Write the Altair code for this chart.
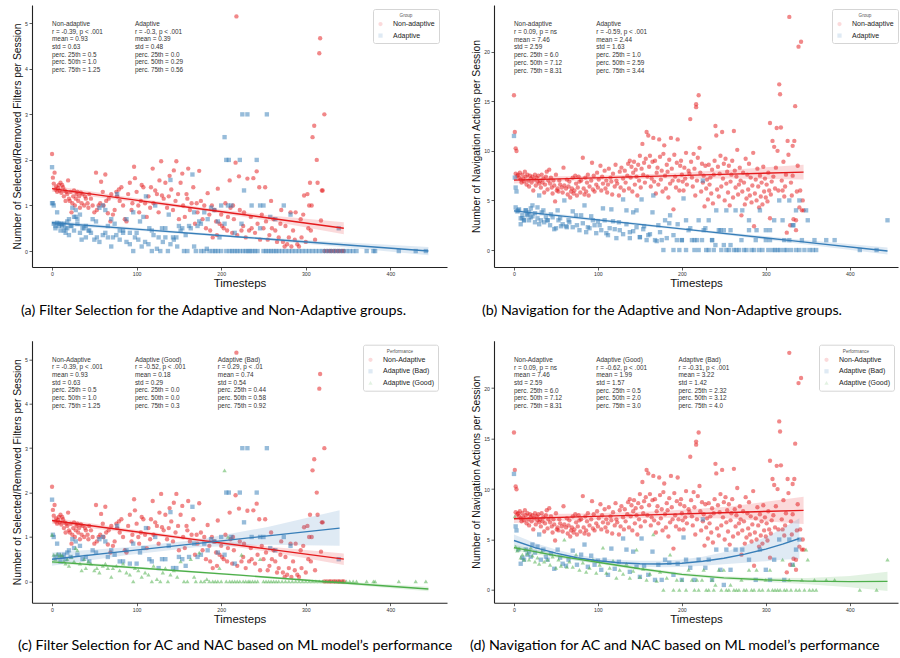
import altair as alt
import pandas as pd

# ---------------- data ----------------
# Filter selection, Non-Adaptive
filt_na_x = [0,1,2,3,4,5,6,7,8,9,10,11,12,13,14,15,16,17,18,19,20,21,22,23,24,25,26,27,28,29,30,31,32,33,34,35,36,38,39,40,42,43,44,46,48,50,52,53,55,57,58,60,61,63,64,66,67,69,70,72,74,76,77,79,80,82,84,86,88,90,92,94,95,97,98,100,102,103,105,106,108,110,112,114,116,117,119,120,122,124,126,127,129,130,132,134,136,138,139,141,143,144,146,147,149,150,152,154,155,157,159,160,161,163,165,167,169,171,172,174,176,178,180,182,184,186,187,189,190,192,194,195,196,198,200,201,203,205,207,208,210,211,213,214,215,217,218,219,221,222,224,226,227,229,231,233,235,236,238,240,242,243,245,246,248,250,252,253,255,257,259,260,262,264,266,268,270,271,273,275,276,278,280,282,283,285,287,288,290,292,294,295,297,298,300,302,303,304,305,306,307,308,310,311,313,314,316,317,318,319,320,322,322,325,328,330,333,335,338,340,343,345]
filt_na_y = [2.13,1.61,1.48,1.72,1.35,1.42,1.30,1.38,1.45,1.33,1.50,1.28,1.45,1.40,1.20,1.33,1.10,1.30,1.25,1.55,1.15,1.10,1.30,0.85,1.05,1.20,1.33,1.00,1.15,1.25,1.30,1.10,1.20,0.95,1.28,1.05,1.25,1.00,1.20,1.15,1.05,0.95,1.25,1.15,1.00,0.85,1.72,0.90,1.00,1.05,1.52,1.30,1.00,1.68,1.10,0.83,1.15,0.65,1.25,0.80,0.90,1.30,1.20,1.35,1.10,1.40,1.00,0.70,0.65,1.25,1.50,0.90,1.05,1.85,1.60,1.30,1.00,0.85,1.10,1.45,1.40,1.05,0.75,1.20,0.95,1.40,1.81,1.05,1.33,1.25,0.85,1.55,1.97,1.22,1.15,1.50,0.95,1.20,1.65,1.35,0.90,1.77,1.10,1.97,1.25,0.70,1.50,1.70,1.00,0.75,1.25,1.15,1.81,0.90,1.05,1.40,0.60,1.05,0.85,1.76,1.10,0.70,1.00,0.50,1.27,0.80,0.45,1.00,0.30,0.90,0.65,0.35,1.37,0.60,0.80,0.55,0.50,1.05,0.45,0.75,1.55,0.95,0.40,1.00,0.70,1.94,5.15,0.35,1.64,0.90,0.45,0.55,0.85,0.30,1.59,0.45,0.75,0.50,1.60,0.40,1.75,0.60,1.40,0.25,0.80,0.50,1.40,0.65,0.25,0.35,1.10,0.50,0.70,0.45,0.20,0.30,0.60,0.90,0.20,0.10,0.55,0.15,0.30,0.85,0.10,0.45,0.25,0.85,0.15,0.10,0.70,0.30,0.80,1.22,0.20,1.25,0.50,1.00,1.50,0.45,1.00,2.50,2.75,0.25,2.00,1.50,4.34,4.67,0.67,1.33,1.33,3.00,0.0,0.0,0.0,0.0,0.0,0.0,0.0,0.0,0.0,0.0]

# Filter selection, Adaptive (Bad)
filt_bad_x = [0,1,2,4,6,8,10,12,14,16,18,20,22,24,26,28,30,33,36,40,44,48,52,56,60,63,66,70,74,77,80,84,88,92,96,100,104,108,111,115,118,122,126,130,134,138,140,143,147,150,154,158,162,166,168,172,176,180,184,188,192,196,200,204,206,209,212,216,222,225,227,231,236,242,246,250,254,258,264,274,282,339]
filt_bad_y = [1.84,1.05,1.0,0.55,0.85,0.6,0.45,0.55,0.6,0.5,0.65,0.7,0.55,0.95,0.75,0.9,0.6,0.8,0.5,0.55,0.45,0.7,0.65,0.95,1.0,0.9,0.55,0.7,0.6,1.25,0.45,0.45,0.7,0.4,0.85,0.4,0.65,0.75,1.2,0.5,0.45,1.0,0.3,0.5,0.5,0.8,1.56,0.3,0.3,0.55,0.5,0.35,0.55,1.68,0.85,0.55,0.6,0.85,0.7,0.95,0.9,0.65,1.0,0.6,2.0,2.0,1.0,0.4,2.0,3.0,1.33,3.0,1.0,2.0,1.0,1.0,3.0,0.75,0.7,1.0,0.8,0.5]

# Filter selection, Adaptive (Good)
filt_good_x = [0,2,4,6,8,10,12,14,16,18,20,23,26,28,30,33,35,38,40,43,46,50,53,56,60,63,66,70,72,76,80,84,88,92,96,98,102,106,110,114,118,120,124,128,131,134,137,140,144,148,152,156,160,164,168,170,174,176,180,183,186,190,193,196,198,200,204,206,208,210,213,216,219,222,224,226,229,232,234,237,240,243,246,250,253,256,259,262,265,268,272,276,280,284,288,292,296,300,304,308,312,316,320,324,328,332,336,340,344,348,352,356,360,372,380,382,410,430,442]
filt_good_y = [1.05,0.6,0.5,0.62,0.55,0.6,0.58,0.45,0.4,0.5,0.35,0.55,0.45,0.75,0.7,0.4,0.25,0.5,0.3,0.45,0.4,0.25,0.3,0.2,0.35,0.4,0.3,0.1,0.3,0.35,0.25,0.4,0.2,0.15,0.0,0.3,0.25,0.1,0.2,0.15,0.0,0.35,0.05,0.0,0.2,0.3,0.0,0.15,0.25,0.1,0.45,0.0,0.0,0.5,0.1,0.0,0.65,0.0,0.0,0.05,0.0,0.0,0.0,0.0,0.3,0.0,2.5,0.0,1.0,0.0,0.0,0.0,0.0,0.0,0.6,0.0,0.0,0.0,0.0,0.0,0.0,0.0,0.5,0.0,0.0,0.0,0.0,0.0,0.0,0.0,0.0,0.0,0.0,0.0,0.0,0.0,0.0,0.0,0.0,0.0,0.0,0.0,0.0,0.0,0.0,0.0,0.0,0.0,0.0,0.0,0.0,0.0,0.0,0.0,0.0,0.0,0.0,0.0,0.0]

# Navigation, Non-Adaptive
nav_na_x = [0,1,2,3,2,4,5,6,7,8,9,10,11,12,13,14,15,16,17,18,19,20,21,22,23,24,25,26,27,28,29,30,31,32,33,34,35,36,37,38,39,40,41,42,43,44,45,46,47,48,49,50,51,52,53,54,55,57,58,59,60,62,63,64,65,66,67,68,69,70,71,72,73,74,75,76,77,78,79,80,82,83,84,85,86,87,88,89,90,92,93,94,95,96,98,99,100,101,103,104,105,106,108,109,110,111,112,113,115,116,117,118,120,121,122,123,125,126,127,128,130,131,132,133,135,136,137,138,139,140,141,142,143,144,145,146,147,148,149,150,151,152,153,154,155,156,157,158,159,160,161,162,163,164,165,166,167,168,169,170,171,172,173,174,175,176,177,178,179,180,181,182,183,184,185,186,187,188,189,190,191,192,193,194,195,196,197,198,199,200,201,202,203,204,205,206,208,209,210,211,212,213,214,215,216,217,217,218,219,220,221,222,223,224,225,226,227,228,229,230,231,232,233,234,235,236,237,238,239,240,241,242,243,244,245,246,247,248,249,250,251,252,253,254,255,256,257,258,259,260,261,262,263,264,265,266,267,268,269,270,271,272,273,274,275,276,277,278,279,280,281,282,283,284,285,286,287,288,289,290,291,292,293,294,295,296,297,298,299,300,301,302,303,304,305,305,306,307,308,309,310,311,312,313,314,315,316,317,318,319,320,321,322,323,324,325,326,327,328,329,330,331,332,332,333,334,335,336,336,337,338,339,340,341,342,343,344,345]
nav_na_y = [15.6,11.9,10.25,9.98,7.7,7.5,7.6,7.3,7.8,7.1,6.8,7.6,7.2,6.9,7.9,7.4,6.6,7.6,7.0,6.4,7.5,7.2,6.8,7.4,6.0,7.1,7.6,6.5,7.3,6.9,7.5,6.7,7.0,6.3,7.6,6.8,7.2,5.8,6.6,7.4,7.9,6.1,7.0,8.1,6.7,7.3,6.3,5.7,7.0,6.5,4.9,7.6,6.0,6.2,5.9,7.0,6.6,6.3,5.8,8.3,6.5,6.2,7.1,5.6,6.4,6.9,5.3,5.9,6.2,7.3,5.7,6.0,7.5,6.7,5.5,6.3,7.4,6.9,5.8,7.0,9.3,6.2,5.6,7.3,5.9,6.8,7.6,5.5,6.4,7.0,8.8,6.1,7.5,5.9,6.6,7.8,6.3,7.1,8.5,6.0,7.4,6.7,8.0,6.2,7.0,5.8,6.6,8.2,7.3,6.9,5.6,7.7,6.4,8.6,7.0,6.7,5.5,7.9,6.3,8.3,7.2,6.0,8.0,6.8,7.5,8.7,6.2,9.0,7.3,8.4,5.9,7.8,8.9,6.6,8.1,7.4,5.5,8.6,7.0,9.5,6.3,8.2,10.7,7.6,8.8,6.8,9.2,11.9,7.4,11.55,8.4,9.5,6.4,7.2,8.9,11.3,6.9,9.0,5.7,7.8,8.3,6.6,11.15,9.4,7.1,8.0,5.9,9.7,10.55,7.5,6.2,8.6,7.9,5.3,9.1,6.7,11.3,8.2,7.0,4.1,9.6,7.4,6.3,8.8,11.15,7.0,6.0,8.5,9.0,7.6,6.9,6.0,8.3,7.2,9.8,6.6,8.0,7.7,13.2,8.9,7.3,6.4,9.7,8.2,5.5,14.4,14.7,7.0,9.3,15.6,10.3,7.8,5.9,8.7,6.8,7.5,4.4,8.5,6.2,7.1,5.1,8.6,6.6,7.3,5.7,8.1,4.7,7.6,9.0,12.5,11.55,6.1,8.4,5.4,7.7,9.5,6.4,11.9,7.2,8.7,5.0,9.2,6.7,7.9,5.8,8.5,4.5,6.9,7.6,9.0,5.3,12.0,8.0,6.3,7.4,10.1,5.6,6.6,8.3,7.0,3.5,5.9,7.8,6.8,4.6,9.2,5.2,7.6,6.1,8.7,5.5,7.3,4.8,6.5,9.8,2.4,5.7,7.1,5.0,8.2,6.4,4.3,7.5,5.4,6.8,4.6,8.4,5.9,7.2,5.3,6.6,4.9,7.8,6.0,12.8,3.2,5.6,6.9,11.0,7.4,10.4,6.2,8.3,12.3,10.0,6.0,16.7,15.7,12.35,7.0,6.0,8.9,5.4,6.4,7.6,1.75,11.0,9.6,23.5,2.5,6.8,5.5,10.5,7.5,3.1,11.0,14.5,2.0,3.0,5.9,8.5,20.5,4.3,6.0,21.0,4.0,5.0,4.0]

# Navigation, Adaptive (Bad)
nav_bad_x = [0,2,3,5,8,10,12,14,16,18,20,22,25,28,30,32,35,38,40,44,48,52,55,58,62,65,70,75,80,84,88,92,96,100,104,108,112,116,120,125,130,134,138,142,146,150,152,155,160,165,168,172,176,180,185,190,195,200,202,205,210,215,220,225,228,232,236,241,246,250,253,258,264,272,280,288,293,300,305,310,316,322,328,332,336,340]
nav_bad_y = [11.5,6.3,5.9,4.0,2.6,3.2,3.0,4.0,3.5,3.8,3.3,4.5,3.7,4.3,5.5,3.0,4.0,3.3,3.0,3.6,2.1,4.0,3.2,2.6,2.4,3.0,3.9,2.5,3.5,4.5,2.3,3.4,2.5,2.9,2.0,3.0,1.5,4.1,2.1,2.8,5.1,4.0,1.8,3.8,2.3,1.3,5.1,2.4,1.5,3.8,1.0,2.5,1.0,3.0,2.7,1.5,2.6,1.0,5.2,3.0,2.2,1.0,3.0,7.0,2.2,3.0,1.0,4.0,2.0,0.5,4.0,2.0,4.0,4.0,3.0,1.0,4.0,2.0,1.0,3.0,5.0,1.0,5.0,2.5,4.0,5.0]

# Navigation, Adaptive (Good)
nav_good_x = [1,2,4,6,8,10,12,14,16,18,20,22,25,28,30,33,36,40,43,46,50,53,56,60,63,66,70,74,78,82,86,90,94,98,102,106,110,114,118,122,126,130,134,138,142,146,150,154,158,162,166,170,174,178,182,186,190,194,197,200,205,208,212,215,218,220,224,226,229,232,236,238,240,244,247,250,253,256,258,262,265,268,271,274,277,280,283,286,289,292,296,300,303,305,308,311,314,317,320,322,325,328,330,333,336,340,343,346,348,350,352,356,358,360,372,382,412,432,445]
nav_good_y = [7.3,4.3,3.9,4.1,3.2,3.5,3.0,4.0,3.6,3.0,4.2,3.4,2.8,3.2,2.6,3.8,2.8,3.0,2.5,3.3,2.2,3.0,2.4,5.0,2.3,2.8,2.3,3.5,2.0,2.7,1.8,2.2,3.0,1.7,2.5,4.2,1.7,2.2,2.9,1.2,2.0,1.6,2.6,1.2,1.9,4.0,1.3,2.1,1.0,1.6,5.5,0.9,1.8,0.0,1.2,3.5,0.0,1.0,0.0,1.0,0.0,2.0,1.0,0.0,1.0,0.0,1.0,2.0,0.0,0.0,1.0,0.0,0.5,2.0,0.0,2.0,0.0,0.0,0.5,0.0,0.0,0.0,1.0,0.0,0.0,2.0,0.0,0.0,2.0,0.0,0.0,1.0,0.0,2.0,0.0,0.0,0.0,0.0,3.0,0.0,0.0,1.0,0.0,2.5,0.0,0.0,1.0,0.0,4.0,3.0,0.0,0.0,1.0,0.0,1.0,1.0,0.0,0.0,3.0]

# fitted lines and confidence bands (x, centre, half-width)
fa_na_x = [0, 86, 172, 258, 345]
fa_na_y = [1.37, 1.15, 0.935, 0.72, 0.50]
fa_na_h = [0.07, 0.045, 0.035, 0.06, 0.13]
fa_ad_x = [0, 111, 222, 333, 445]
fa_ad_y = [0.62, 0.465, 0.31, 0.155, 0.0]
fa_ad_h = [0.05, 0.03, 0.025, 0.05, 0.09]
fc_bad_x = [0, 85, 170, 255, 340]
fc_bad_y = [0.5, 0.675, 0.85, 1.025, 1.2]
fc_bad_h = [0.15, 0.09, 0.08, 0.2, 0.4]
fc_good_x = [0, 111, 222, 333, 445]
fc_good_y = [0.44, 0.29, 0.14, -0.02, -0.17]
fc_good_h = [0.04, 0.025, 0.02, 0.03, 0.05]

nb_na_x = [0, 86, 172, 258, 345]
nb_na_y = [7.05, 7.25, 7.45, 7.65, 7.85]
nb_na_h = [0.35, 0.22, 0.25, 0.45, 0.75]
nb_ad_x = [0, 111, 222, 333, 445]
nb_ad_y = [3.95, 2.94, 1.93, 0.92, -0.1]
nb_ad_h = [0.22, 0.13, 0.12, 0.2, 0.35]
nd_na_x = [0, 86, 172, 258, 345]
nd_na_y = [7.06, 7.27, 7.47, 7.68, 7.89]
nd_na_h = [0.42, 0.3, 0.32, 0.6, 1.35]
nd_bad_x = [0, 25, 50, 75, 100, 125, 150, 175, 200, 225, 250, 275, 300, 320, 340]
nd_bad_y = [4.9, 4.2, 3.65, 3.2, 2.9, 2.7, 2.6, 2.58, 2.65, 2.85, 3.15, 3.55, 4.05, 4.55, 5.1]
nd_bad_h = [0.6, 0.45, 0.35, 0.3, 0.28, 0.28, 0.3, 0.32, 0.38, 0.45, 0.6, 0.85, 1.2, 1.55, 2.0]
nd_good_x = [0, 50, 100, 150, 200, 250, 300, 350, 400, 445]
nd_good_y = [4.2, 3.4, 2.75, 2.1, 1.55, 1.2, 1.0, 0.88, 0.83, 0.85]
nd_good_h = [0.28, 0.2, 0.16, 0.16, 0.15, 0.17, 0.2, 0.3, 0.55, 0.95]

ann_a = ["Non-adaptive\nr = -0.39, p < .001\nmean = 0.93\nstd = 0.63\nperc. 25th = 0.5\nperc. 50th = 1.0\nperc. 75th = 1.25",
         "Adaptive\nr = -0.3, p < .001\nmean = 0.39\nstd = 0.48\nperc. 25th = 0.0\nperc. 50th = 0.29\nperc. 75th = 0.56"]
ann_b = ["Non-adaptive\nr = 0.09, p = ns\nmean = 7.46\nstd = 2.59\nperc. 25th = 6.0\nperc. 50th = 7.12\nperc. 75th = 8.31",
         "Adaptive\nr = -0.59, p < .001\nmean = 2.44\nstd = 1.63\nperc. 25th = 1.0\nperc. 50th = 2.59\nperc. 75th = 3.44"]
ann_c = ["Non-Adaptive\nr = -0.39, p < .001\nmean = 0.93\nstd = 0.63\nperc. 25th = 0.5\nperc. 50th = 1.0\nperc. 75th = 1.25",
         "Adaptive (Good)\nr = -0.52, p < .001\nmean = 0.18\nstd = 0.29\nperc. 25th = 0.0\nperc. 50th = 0.0\nperc. 75th = 0.3",
         "Adaptive (Bad)\nr = 0.29, p < .01\nmean = 0.74\nstd = 0.54\nperc. 25th = 0.44\nperc. 50th = 0.58\nperc. 75th = 0.92"]
ann_d = ["Non-Adaptive\nr = 0.09, p = ns\nmean = 7.46\nstd = 2.59\nperc. 25th = 6.0\nperc. 50th = 7.12\nperc. 75th = 8.31",
         "Adaptive (Good)\nr = -0.62, p < .001\nmean = 1.99\nstd = 1.57\nperc. 25th = 0.5\nperc. 50th = 2.0\nperc. 75th = 3.0",
         "Adaptive (Bad)\nr = -0.31, p < .001\nmean = 3.22\nstd = 1.42\nperc. 25th = 2.32\nperc. 50th = 3.12\nperc. 75th = 4.0"]
ann_cols_x = [0, 98, 196]

captions = ["(a) Filter Selection for the Adaptive and Non-Adaptive groups.",
            "(b) Navigation for the Adaptive and Non-Adaptive groups.",
            "(c) Filter Selection for AC and NAC based on ML model\u2019s performance",
            "(d) Navigation for AC and NAC based on ML model\u2019s performance"]

RED, BLUE, GREEN = "#e41a1c", "#377eb8", "#4daf4a"
FONT = "Liberation Sans"
H = 262


def pts(groups):
    rows = []
    for name, xs, ys in groups:
        for x, y in zip(xs, ys):
            rows.append({"x": x, "y": y, "grp": name})
    return pd.DataFrame(rows)


def fits(items):
    rows = []
    for i, (xs, ys, hs, col) in enumerate(items):
        for x, y, h in zip(xs, ys, hs):
            rows.append({"x": x, "y": y, "lo": y - h, "hi": y + h, "col": col, "fit": i})
    return pd.DataFrame(rows)


def axis(values, title, tsize, tpad):
    return alt.Axis(values=values, title=title, labelFlush=False, grid=False,
                    domainColor="#222", domainWidth=1.1, tickColor="#333", tickSize=3,
                    tickWidth=0.8, labelFontSize=5.2, labelColor="#333", labelFont=FONT,
                    titleFont=FONT, titleFontSize=tsize, titleFontWeight="normal",
                    titleColor="#111", labelPadding=1.5, titlePadding=tpad)


def panel(pdf, fdf, notes, note_y, xdom, ydom, yvals, ytitle, ltitle, domain, colors, shapes,
          width, legx, caption, dx):
    xs = alt.Scale(domain=xdom, nice=False, zero=False)
    ys = alt.Scale(domain=ydom, nice=False, zero=False)
    xa = axis([0, 100, 200, 300, 400], "Timesteps", 11.5, 1)
    ya = axis(yvals, ytitle, 10.3, 2)
    X = lambda f: alt.X(f, type="quantitative", scale=xs, axis=xa)
    Y = lambda f: alt.Y(f, type="quantitative", scale=ys, axis=ya)
    leg = alt.Legend(title=ltitle, orient="none", legendX=legx, legendY=4,
                     strokeColor="#d5d5d5", fillColor="white", padding=4, cornerRadius=2,
                     titleFontSize=4.6, titleFontWeight="normal", titleColor="#555",
                     titleAnchor="middle", titleFont=FONT, labelFont=FONT, labelFontSize=7,
                     labelColor="#222", symbolSize=18, symbolOpacity=0.5,
                     symbolStrokeWidth=0, rowPadding=3.5, labelOffset=9, titlePadding=3)
    points = alt.Chart(pdf).mark_point(filled=True, size=19, opacity=0.52, strokeWidth=0).encode(
        x=X("x"), y=Y("y"),
        color=alt.Color("grp:N", scale=alt.Scale(domain=domain, range=colors), legend=leg),
        shape=alt.Shape("grp:N", scale=alt.Scale(domain=domain, range=shapes), legend=leg),
    )
    band = alt.Chart(fdf).mark_area(opacity=0.16).encode(
        x=X("x"), y=Y("lo"), y2="hi", color=alt.Color("col:N", scale=None), detail="fit:N")
    line = alt.Chart(fdf).mark_line(strokeWidth=1.4).encode(
        x=X("x"), y=Y("y"), color=alt.Color("col:N", scale=None), detail="fit:N")
    tdf = pd.DataFrame({"x": ann_cols_x[:len(notes)], "y": [note_y] * len(notes), "t": notes})
    text = alt.Chart(tdf).mark_text(align="left", baseline="top", fontSize=6.4, lineHeight=7.7,
                                    font=FONT, color="#333", lineBreak="\n").encode(
        x=X("x"), y=Y("y"), text="t:N")
    return alt.layer(points, band, line, text).properties(
        width=width, height=H,
        title=alt.TitleParams(text=caption, orient="bottom", anchor="start", frame="group",
                              dx=dx, offset=14.5, font="Lato", fontSize=14.3,
                              fontWeight="normal", color="black"))


XL = [-23.7, 467]
XR = [-23.8, 457.5]
WL, WR = 415, 404

pa = panel(pts([("Non-adaptive", filt_na_x, filt_na_y),
                ("Adaptive", filt_bad_x + filt_good_x, filt_bad_y + filt_good_y)]),
           fits([(fa_na_x, fa_na_y, fa_na_h, RED), (fa_ad_x, fa_ad_y, fa_ad_h, BLUE)]),
           ann_a, 5.05, XL, [-0.35, 5.4], [0, 1, 2, 3, 4, 5],
           "Number of Selected/Removed Filters per Session", "Group",
           ["Non-adaptive", "Adaptive"], [RED, BLUE], ["circle", "square"],
           WL, 341, captions[0], -11)

pb = panel(pts([("Non-adaptive", nav_na_x, nav_na_y),
                ("Adaptive", nav_bad_x + nav_good_x, nav_bad_y + nav_good_y)]),
           fits([(nb_na_x, nb_na_y, nb_na_h, RED), (nb_ad_x, nb_ad_y, nb_ad_h, BLUE)]),
           ann_b, 23.05, XR, [-1.71, 24.7], [0, 5, 10, 15, 20],
           "Number of Navigation Actions per Session", "Group",
           ["Non-adaptive", "Adaptive"], [RED, BLUE], ["circle", "square"],
           WR, 338, captions[1], -12)

pc = panel(pts([("Non-Adaptive", filt_na_x, filt_na_y),
                ("Adaptive (Bad)", filt_bad_x, filt_bad_y),
                ("Adaptive (Good)", filt_good_x, filt_good_y)]),
           fits([(fa_na_x, fa_na_y, fa_na_h, RED), (fc_bad_x, fc_bad_y, fc_bad_h, BLUE),
                 (fc_good_x, fc_good_y, fc_good_h, GREEN)]),
           ann_c, 5.06, XL, [-0.48, 5.42], [0, 1, 2, 3, 4, 5],
           "Number of Selected/Removed Filters per Session", "Performance",
           ["Non-Adaptive", "Adaptive (Bad)", "Adaptive (Good)"], [RED, BLUE, GREEN],
           ["circle", "square", "triangle-up"], WL, 331, captions[2], -14)

pd_ = panel(pts([("Non-Adaptive", nav_na_x, nav_na_y),
                 ("Adaptive (Bad)", nav_bad_x, nav_bad_y),
                 ("Adaptive (Good)", nav_good_x, nav_good_y)]),
            fits([(nd_na_x, nd_na_y, nd_na_h, RED), (nd_bad_x, nd_bad_y, nd_bad_h, BLUE),
                  (nd_good_x, nd_good_y, nd_good_h, GREEN)]),
            ann_d, 23.1, XR, [-1.26, 24.7], [0, 5, 10, 15, 20],
            "Number of Navigation Actions per Session", "Performance",
            ["Non-Adaptive", "Adaptive (Bad)", "Adaptive (Good)"], [RED, BLUE, GREEN],
            ["circle", "square", "triangle-up"], WR, 325, captions[3], -24)

RES = dict(color="independent", shape="independent", x="independent", y="independent")
chart = alt.concat(pa, pb, pc, pd_, columns=2, bounds="flush",
                   spacing={"row": 73.7, "column": 47}).resolve_scale(**RES).resolve_legend(
    color="independent", shape="independent").properties(
    padding={"left": 12, "top": 5, "right": 0, "bottom": 0}, background="white"
).configure_view(stroke=None)

chart.save("out.html", embed_options={"renderer": "svg", "actions": False})
